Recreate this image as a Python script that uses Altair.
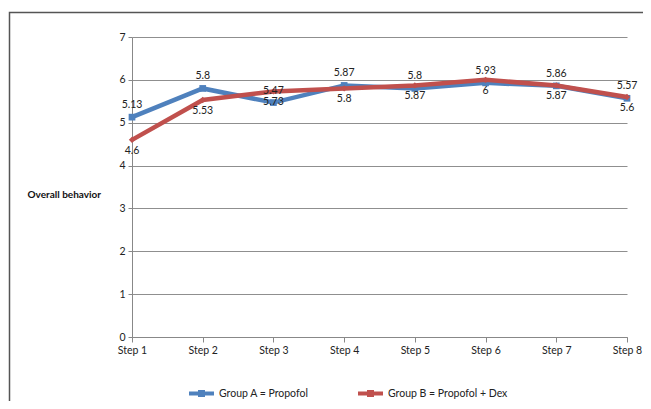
import altair as alt
import pandas as pd

steps = ["Step 1", "Step 2", "Step 3", "Step 4", "Step 5", "Step 6", "Step 7", "Step 8"]
group_a = [5.13, 5.8, 5.47, 5.87, 5.8, 5.93, 5.86, 5.57]
group_b = [4.6, 5.53, 5.73, 5.8, 5.87, 6, 5.87, 5.6]
series_names = ["Group A = Propofol", "Group B = Propofol + Dex"]
series_colors = ["#4F81BD", "#C0504D"]
y_ticks = [0, 1, 2, 3, 4, 5, 6, 7]

rows = []
for i, s in enumerate(steps):
    rows.append({"step": s, "value": group_a[i], "group": series_names[0], "label": f"{group_a[i]:g}"})
    rows.append({"step": s, "value": group_b[i], "group": series_names[1], "label": f"{group_b[i]:g}"})
df = pd.DataFrame(rows)
dfa = df[df.group == series_names[0]]
dfb = df[df.group == series_names[1]]

FONT = "Lato"

x = alt.X("step:O", sort=steps, scale=alt.Scale(type="point", padding=0),
          axis=alt.Axis(title=None, labelAngle=0, grid=False, domainColor="#888888",
                        tickColor="#888888", tickSize=5, labelPadding=3, labelFontSize=10.5,
                        labelColor="#222222", labelFont=FONT))
y = alt.Y("value:Q", scale=alt.Scale(domain=[0, 7], nice=False, zero=True),
          axis=alt.Axis(values=y_ticks, title="Overall behavior", titleAngle=0, titleAlign="left",
                        titleBaseline="middle", titleX=-105, titleY=157, titleFontSize=10,
                        titleFontWeight="bold", titleFont=FONT, titleColor="#111111",
                        grid=True, gridColor="#8f8f8f", domainColor="#888888",
                        tickColor="#888888", tickSize=4, labelPadding=3, labelFontSize=10.5,
                        labelColor="#222222", labelFont=FONT))

legend_symbol = ("M-1,0L1,0 M-0.12,-0.12L0.12,-0.12L0.12,0.12L-0.12,0.12Z")

color = alt.Color("group:N", scale=alt.Scale(domain=series_names, range=series_colors),
                  legend=alt.Legend(title=None, orient="none", direction="horizontal",
                                    legendX=55, legendY=342, symbolType=legend_symbol,
                                    symbolSize=625, symbolStrokeWidth=4, columnPadding=41,
                                    labelOffset=3, labelFontSize=10.5, labelFont=FONT,
                                    labelColor="#222222", labelLimit=300))

frame = alt.Chart(pd.DataFrame({"a": [0]})).mark_rect(
    fill=None, stroke="#555555", strokeWidth=1.5).encode(
    x=alt.value(-122.5), x2=alt.value(700), y=alt.value(-24.5), y2=alt.value(500))

line_a = alt.Chart(dfa).mark_line(strokeWidth=4.5).encode(x=x, y=y, color=color)
line_b = alt.Chart(dfb).mark_line(strokeWidth=4.5).encode(x=x, y=y, color=color)
pts_a = alt.Chart(dfa).mark_point(shape="square", filled=True, size=45, opacity=1,
                                  color=series_colors[0]).encode(x=x, y=y)
pts_b = alt.Chart(dfb).mark_point(shape="diamond", filled=True, size=40, opacity=1,
                                  color=series_colors[1]).encode(x=x, y=y)
lab_a = alt.Chart(dfa).mark_text(dy=-12, fontSize=10.5, font=FONT, color="#222222",
                                 baseline="middle").encode(x=x, y=y, text="label:N")
lab_b = alt.Chart(dfb).mark_text(dy=11, fontSize=10.5, font=FONT, color="#222222",
                                 baseline="middle").encode(x=x, y=y, text="label:N")

chart = alt.layer(frame, line_a, pts_a, line_b, pts_b, lab_a, lab_b).properties(
    width=495, height=300,
    autosize=alt.AutoSizeParams(type="none"),
    padding={"left": 124, "top": 29, "right": 16, "bottom": 64},
    background="white",
).configure_view(stroke=None)

chart.save("out.html", embed_options={"renderer": "svg", "actions": False})
